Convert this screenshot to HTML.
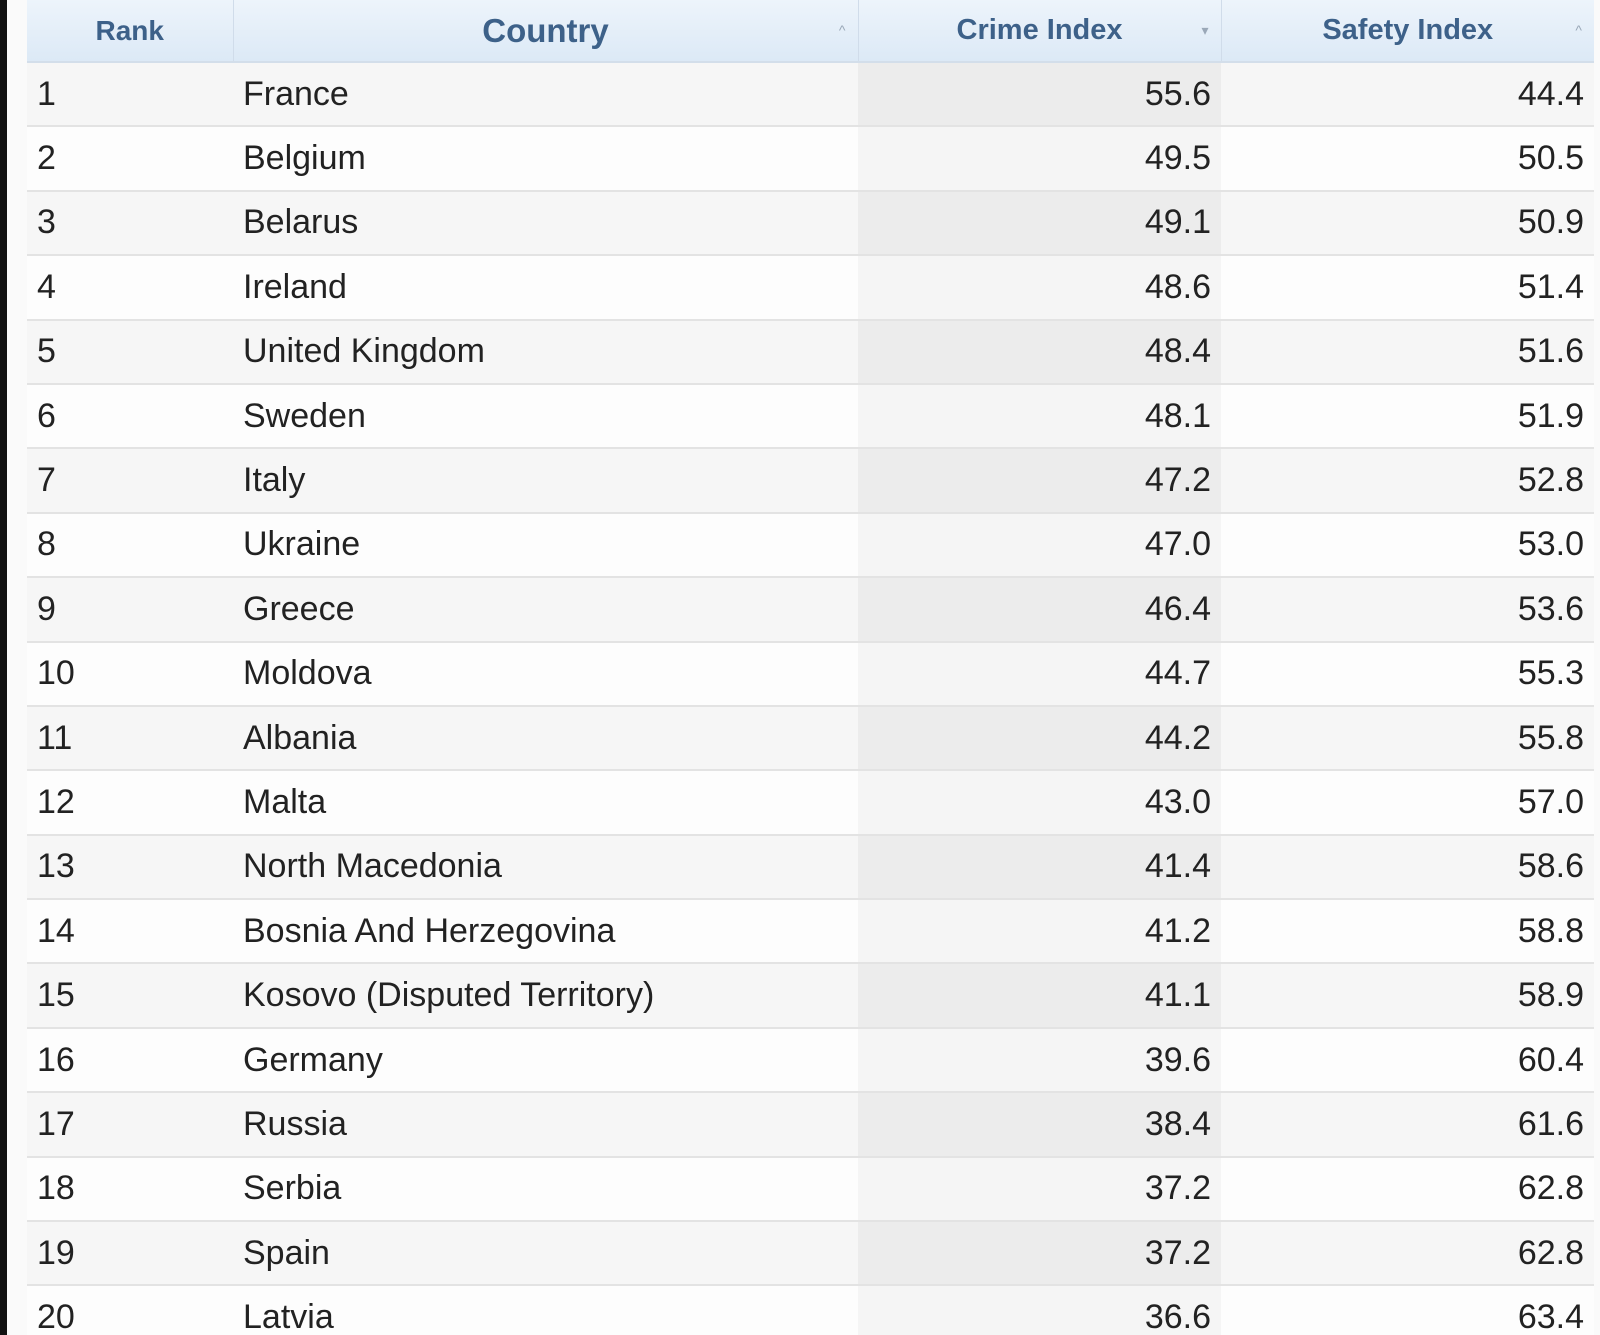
<!DOCTYPE html>
<html><head><meta charset="utf-8"><style>
html,body{margin:0;padding:0;width:1600px;height:1335px;overflow:hidden;background:#fafafa;font-family:"Liberation Sans",Arial,sans-serif}
.wrap{position:relative;width:1600px;height:1335px;overflow:hidden}
.strip{position:absolute;left:0;top:0;width:7px;height:1335px;background:#111}
table{position:absolute;left:27px;top:0;width:1567px;border-collapse:collapse;table-layout:fixed}
th{height:61px;background:linear-gradient(#edf4fb,#dce9f6);color:#3d6189;font-weight:bold;position:relative;border-left:1px solid #d0dcea;border-bottom:2px solid #d3deea;padding:0}
th:first-child{border-left:none}
th .a{position:absolute;right:12px;top:22px;font-size:14px;color:#9aa8b8;font-weight:normal}
td{height:62.4px;border-bottom:2.4px solid #e3e3e3;font-size:34px;color:#222;padding:0;white-space:nowrap}
tr:nth-child(odd) td{background:#f6f6f6}
tr:nth-child(even) td{background:#fdfdfd}
tr:nth-child(odd) td.c{background:#ececec}
tr:nth-child(even) td.c{background:#f5f5f5}
td.r{padding-left:10px}
td.n{padding-left:10px}
td.c,td.s{text-align:right;padding-right:10px}
</style></head><body>
<div class="wrap">
<div class="strip"></div>
<table>
<colgroup><col style="width:206px"><col style="width:625px"><col style="width:363px"><col style="width:373px"></colgroup>
<thead><tr>
<th style="font-size:28px">Rank</th>
<th style="font-size:33px">Country<span class="a">^</span></th>
<th style="font-size:29px">Crime Index<span class="a">▾</span></th>
<th style="font-size:29px">Safety Index<span class="a">^</span></th>
</tr></thead>
<tbody>
<tr><td class="r">1</td><td class="n">France</td><td class="c">55.6</td><td class="s">44.4</td></tr>
<tr><td class="r">2</td><td class="n">Belgium</td><td class="c">49.5</td><td class="s">50.5</td></tr>
<tr><td class="r">3</td><td class="n">Belarus</td><td class="c">49.1</td><td class="s">50.9</td></tr>
<tr><td class="r">4</td><td class="n">Ireland</td><td class="c">48.6</td><td class="s">51.4</td></tr>
<tr><td class="r">5</td><td class="n">United Kingdom</td><td class="c">48.4</td><td class="s">51.6</td></tr>
<tr><td class="r">6</td><td class="n">Sweden</td><td class="c">48.1</td><td class="s">51.9</td></tr>
<tr><td class="r">7</td><td class="n">Italy</td><td class="c">47.2</td><td class="s">52.8</td></tr>
<tr><td class="r">8</td><td class="n">Ukraine</td><td class="c">47.0</td><td class="s">53.0</td></tr>
<tr><td class="r">9</td><td class="n">Greece</td><td class="c">46.4</td><td class="s">53.6</td></tr>
<tr><td class="r">10</td><td class="n">Moldova</td><td class="c">44.7</td><td class="s">55.3</td></tr>
<tr><td class="r">11</td><td class="n">Albania</td><td class="c">44.2</td><td class="s">55.8</td></tr>
<tr><td class="r">12</td><td class="n">Malta</td><td class="c">43.0</td><td class="s">57.0</td></tr>
<tr><td class="r">13</td><td class="n">North Macedonia</td><td class="c">41.4</td><td class="s">58.6</td></tr>
<tr><td class="r">14</td><td class="n">Bosnia And Herzegovina</td><td class="c">41.2</td><td class="s">58.8</td></tr>
<tr><td class="r">15</td><td class="n">Kosovo (Disputed Territory)</td><td class="c">41.1</td><td class="s">58.9</td></tr>
<tr><td class="r">16</td><td class="n">Germany</td><td class="c">39.6</td><td class="s">60.4</td></tr>
<tr><td class="r">17</td><td class="n">Russia</td><td class="c">38.4</td><td class="s">61.6</td></tr>
<tr><td class="r">18</td><td class="n">Serbia</td><td class="c">37.2</td><td class="s">62.8</td></tr>
<tr><td class="r">19</td><td class="n">Spain</td><td class="c">37.2</td><td class="s">62.8</td></tr>
<tr><td class="r">20</td><td class="n">Latvia</td><td class="c">36.6</td><td class="s">63.4</td></tr>
</tbody></table>
</div>
</body></html>
